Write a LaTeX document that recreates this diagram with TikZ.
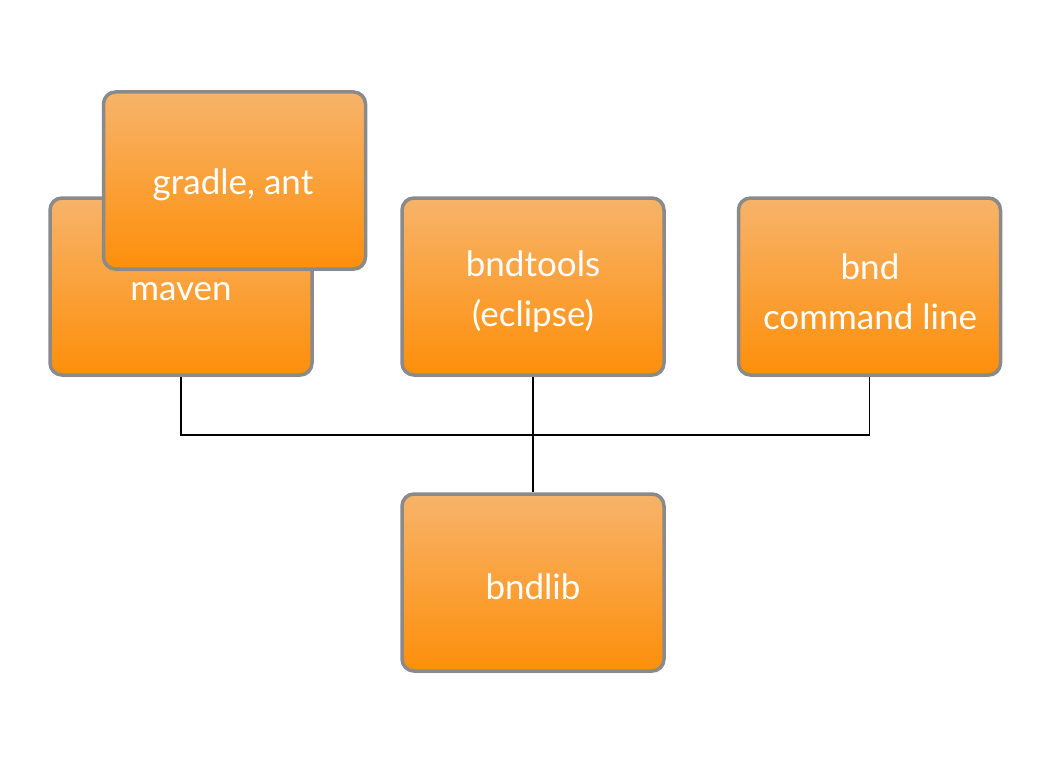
\documentclass[tikz,border=0pt]{standalone}
\usepackage{fontspec}
\setmainfont{Lato}
\usetikzlibrary{shadows}
\definecolor{boxtop}{HTML}{F7B36A}
\definecolor{boxbot}{HTML}{FE8F0A}
\definecolor{boxedge}{HTML}{8A8A8A}
\tikzset{
  tool/.style={rectangle, rounded corners=12pt, minimum width=262pt, minimum height=177pt,
    draw=boxedge, line width=3.5pt, top color=boxtop, bottom color=boxbot,
    inner sep=0pt,
    drop shadow={shadow xshift=1pt, shadow yshift=-2pt, opacity=0.25}},
  tooltext/.style={text=white, font=\fontsize{35}{50}\selectfont, align=center, inner sep=0pt},
  link/.style={draw=black, line width=1.4pt}
}
\begin{document}
\begin{tikzpicture}[x=1pt,y=-1pt]
\useasboundingbox (0,0) rectangle (1050,768);
\node[tool] (maven) at (181,286.5) {};
\node[tooltext] (maventext) at (181,292) {maven};
\node[tool] (gradle) at (234.5,180.5) {};
\node[tooltext] (gradletext) at (233,185) {gradle, ant};
\node[tool] (bndtools) at (533,286.5) {};
\node[tooltext] (bndtoolstext) at (533,292) {bndtools\\(eclipse)};
\node[tool] (bnd) at (869.5,286.5) {};
\node[tooltext] (bndtext) at (870,292) {bnd\\command line};
\node[tool] (bndlib) at (533,582.5) {};
\node[tooltext] (bndlibtext) at (533,587) {bndlib};
\coordinate (jl) at (181,435);
\coordinate (jr) at (869.5,435);
\draw[link] (maven.south) -- (jl) -- (jr) -- (bnd.south);
\draw[link] (bndtools.south) -- (bndlib.north);
\end{tikzpicture}
\end{document}
